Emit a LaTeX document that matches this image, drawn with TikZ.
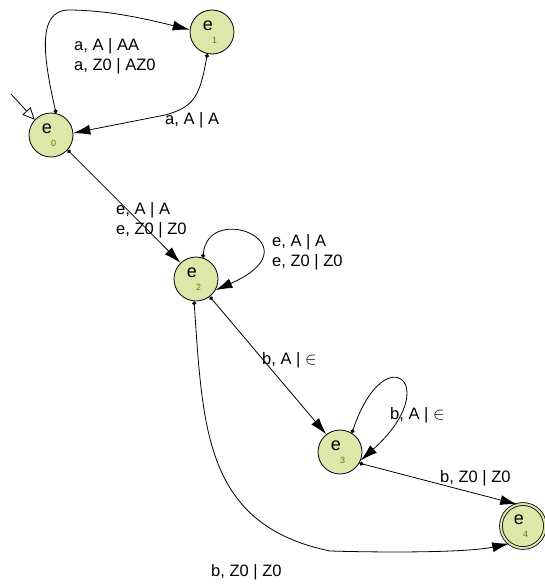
\documentclass[tikz,border=0pt]{standalone}
\usepackage{fontspec}
\setmainfont{Liberation Sans}
\usetikzlibrary{arrows.meta}
\definecolor{statefill}{RGB}{221,231,170}
\definecolor{subcol}{RGB}{120,110,10}
\newcommand{\stname}[1]{\makebox[0pt][r]{\fontsize{18}{18}\selectfont e\kern-1pt}\makebox[0pt][l]{\raisebox{-13pt}{\fontsize{9}{9}\selectfont\color{subcol}#1}}}
\begin{document}
\begin{tikzpicture}[x=1pt,y=-1pt,
  state/.style={circle,draw,line width=0.8pt,fill=statefill,minimum size=44pt,inner sep=0pt},
  accept/.style={state,double=statefill,double distance=2pt},
  edge/.style={line width=0.8pt,{Circle[length=4pt]}-{Latex[length=17pt,width=10pt]}},
  lbl/.style={font=\fontsize{16.5}{20}\selectfont,align=left,inner sep=0pt,anchor=west}]
\useasboundingbox (0,0) rectangle (544,584);

\node[state] (e0) at (51,135) {\stname{0}};
\node[state] (e1) at (212,32) {\stname{1}};
\node[state] (e2) at (196,279) {\stname{2}};
\node[state] (e3) at (340,452) {\stname{3}};
\node[accept] (e4) at (523,526) {\stname{4}};

\coordinate (init) at (11,94);
\draw[line width=0.8pt,-{Triangle[open,length=12pt,width=11pt]}] (init) -- (e0.137);

% e0 -> e1
\draw[edge] (e0.77) .. controls (44,60) and (36,11) .. (68,10)
  .. controls (110,10) and (150,20) .. (e1.174);
% e1 -> e0
\draw[edge] (e1.258) .. controls (200,95) and (195,107) .. (165,115) -- (e0.5);
% e0 -> e2
\draw[edge] (e0.-42) -- (e2.134);
% e2 loop
\draw[edge] (e2.72) .. controls (208,200) and (318,245) .. (e2.-30);
% e2 -> e3
\draw[edge] (e2.-52) -- (e3.128);
% e3 loop
\draw[edge] (e3.58) .. controls (385,335) and (445,385) .. (e3.-22);
% e3 -> e4
\draw[edge] (e3.-30) -- (e4.105);
% e2 -> e4
\draw[edge] (e2.-95) .. controls (203,430) and (205,525) .. (330,551)
  .. controls (400,553) and (470,552) .. (e4.-128);

\node[lbl] (l01) at (74,56) {a, A | AA\\a, Z0 | AZ0};
\node[lbl] (l10) at (165,120) {a, A | A};
\node[lbl] (l02) at (116,220) {e, A | A\\e, Z0 | Z0};
\node[lbl] (l22) at (272,252) {e, A | A\\e, Z0 | Z0};
\node[lbl] (l23) at (262,360) {b, A | $\in$};
\node[lbl] (l33) at (390,415) {b, A | $\in$};
\node[lbl] (l34) at (440,478) {b, Z0 | Z0};
\node[lbl] (l24) at (211,572) {b, Z0 | Z0};
\end{tikzpicture}
\end{document}
